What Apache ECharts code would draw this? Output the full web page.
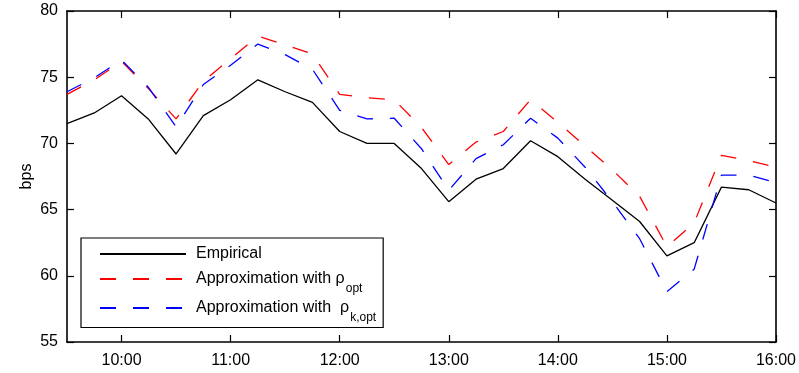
<!DOCTYPE html>
<html>
<head>
<meta charset="utf-8">
<script src="https://cdn.jsdelivr.net/npm/echarts@6/dist/echarts.min.js"></script>
<style>
html,body{margin:0;padding:0;background:#fff;overflow:hidden;}
#chart{width:799px;height:373px;}
</style>
</head>
<body>
<div id="chart"></div>
<script>
var times = ['9:30','9:45','10:00','10:15','10:30','10:45','11:00','11:15','11:30','11:45','12:00','12:15','12:30','12:45','13:00','13:15','13:30','13:45','14:00','14:15','14:30','14:45','15:00','15:15','15:30','15:45','16:00'];
var empirical = [71.5, 72.3, 73.6, 71.8, 69.2, 72.1, 73.3, 74.8, 73.9, 73.1, 70.9, 70.0, 70.0, 68.1, 65.6, 67.3, 68.1, 70.2, 69.0, 67.3, 65.7, 64.1, 61.5, 62.5, 66.7, 66.5, 65.5];
var approxRhoOpt = [73.7, 74.8, 76.2, 74.1, 71.85, 74.7, 76.4, 78.1, 77.45, 76.75, 73.7, 73.45, 73.3, 71.2, 68.4, 70.1, 70.9, 73.3, 71.6, 69.8, 68.0, 66.0, 62.2, 64.0, 69.1, 68.7, 68.2];
var approxRhoKOpt = [73.9, 74.95, 76.3, 74.2, 71.25, 74.45, 75.9, 77.5, 76.7, 75.6, 72.5, 71.85, 71.9, 69.6, 66.45, 68.85, 69.9, 71.9, 70.4, 68.2, 65.6, 62.8, 58.8, 60.5, 67.6, 67.6, 67.05];
var yTicks = {min: 55, max: 80, step: 5};
var seriesNames = ['Empirical', 'Approximation with \u03c1opt', 'Approximation with  \u03c1k,opt'];

var FONT = "'Liberation Sans', Arial, Helvetica, sans-serif";
var tickEvery = function (idx) { return idx % 4 === 2; };

var chart = echarts.init(document.getElementById('chart'), null, {renderer: 'canvas'});
var axisLine = {show: true, lineStyle: {color: '#000', width: 1.6}};
var option = {
  animation: false,
  backgroundColor: '#fff',
  grid: {left: 67, right: 23, top: 11, bottom: 31, containLabel: false},
  xAxis: [{
    type: 'category', data: times, boundaryGap: false, position: 'bottom',
    axisLine: axisLine,
    axisTick: {show: true, inside: true, length: 7, interval: tickEvery, lineStyle: {color: '#000', width: 1.2}},
    axisLabel: {show: true, interval: tickEvery, margin: 11, color: '#000', fontSize: 16, fontFamily: FONT},
    splitLine: {show: false}
  }, {
    type: 'category', data: times, boundaryGap: false, position: 'top',
    axisLine: axisLine,
    axisTick: {show: true, inside: true, length: 7, interval: tickEvery, lineStyle: {color: '#000', width: 1.2}},
    axisLabel: {show: false},
    splitLine: {show: false}
  }],
  yAxis: [{
    type: 'value', min: yTicks.min, max: yTicks.max, interval: yTicks.step, position: 'left',
    name: 'bps', nameLocation: 'middle', nameGap: 32, nameRotate: 90, nameMoveOverlap: false,
    nameTextStyle: {color: '#000', fontSize: 16, fontFamily: FONT},
    axisLine: axisLine,
    axisTick: {show: true, inside: true, length: 7, lineStyle: {color: '#000', width: 1.2}},
    axisLabel: {margin: 9, color: '#000', fontSize: 16, fontFamily: FONT},
    splitLine: {show: false}
  }, {
    type: 'value', min: yTicks.min, max: yTicks.max, interval: yTicks.step, position: 'right',
    axisLine: axisLine,
    axisTick: {show: true, inside: true, length: 7, lineStyle: {color: '#000', width: 1.2}},
    axisLabel: {show: false},
    splitLine: {show: false}
  }],
  legend: {
    orient: 'vertical', left: 81, top: 238,
    padding: [7, 7, 4, 18],
    itemGap: 4.5, itemWidth: 86, itemHeight: 14,
    borderColor: '#000', borderWidth: 1.2, backgroundColor: '#fff',
    selectedMode: false,
    itemStyle: {opacity: 0},
    data: seriesNames,
    formatter: function (name) {
      if (name === seriesNames[0]) return '{m|Empirical}{z| }';
      if (name === seriesNames[1]) return '{m|Approximation with \u03c1}{s|opt}';
      return '{m|Approximation with  \u03c1}{s|k,opt}';
    },
    textStyle: {
      color: '#000', fontSize: 16, fontFamily: FONT,
      rich: {
        m: {fontSize: 16, fontFamily: FONT, color: '#000', lineHeight: 18, verticalAlign: 'middle', padding: [0, 0, 0, 5]},
        z: {fontSize: 12, fontFamily: FONT, color: '#000', lineHeight: 12, verticalAlign: 'top', padding: [8.5, 0, 0, 1]},
        s: {fontSize: 12, fontFamily: FONT, color: '#000', lineHeight: 12, verticalAlign: 'top', padding: [12.5, 0, 0, 1]}
      }
    }
  },
  series: [{
    name: seriesNames[0], type: 'line', data: empirical, symbol: 'none',
    xAxisIndex: 0, yAxisIndex: 0,
    lineStyle: {color: '#000', width: 1.3, type: 'solid'}, itemStyle: {color: '#000'}
  }, {
    name: seriesNames[1], type: 'line', data: approxRhoOpt, symbol: 'none',
    xAxisIndex: 0, yAxisIndex: 0,
    lineStyle: {color: '#ff0000', width: 1.3, type: [16, 17]}, itemStyle: {color: '#ff0000'}
  }, {
    name: seriesNames[2], type: 'line', data: approxRhoKOpt, symbol: 'none',
    xAxisIndex: 0, yAxisIndex: 0,
    lineStyle: {color: '#0000ff', width: 1.3, type: [16, 17]}, itemStyle: {color: '#0000ff'}
  }]
};
chart.setOption(option);
</script>
</body>
</html>
